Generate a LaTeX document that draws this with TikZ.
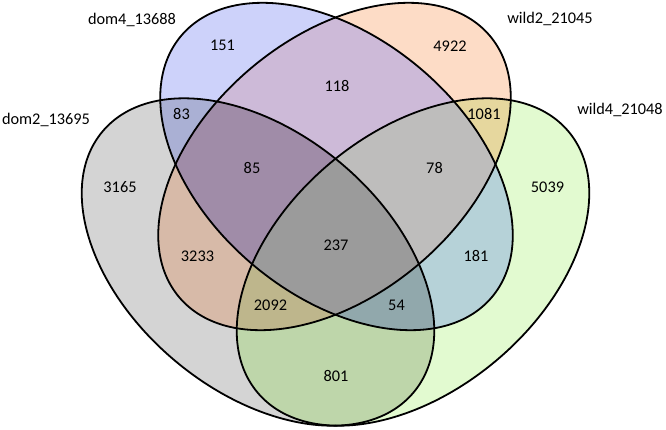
\documentclass[tikz,border=0pt]{standalone}
\usepackage{fontspec}
\setmainfont{Carlito}
\definecolor{cG}{RGB}{212,212,212}
\definecolor{cB}{RGB}{205,210,250}
\definecolor{cO}{RGB}{253,220,198}
\definecolor{cN}{RGB}{226,250,208}
\definecolor{cGB}{RGB}{170,176,212}
\definecolor{cGO}{RGB}{215,186,168}
\definecolor{cGN}{RGB}{190,214,170}
\definecolor{cBO}{RGB}{205,186,216}
\definecolor{cBN}{RGB}{182,210,216}
\definecolor{cON}{RGB}{230,215,158}
\definecolor{cGBO}{RGB}{160,140,168}
\definecolor{cGBN}{RGB}{145,168,172}
\definecolor{cGON}{RGB}{190,182,140}
\definecolor{cBON}{RGB}{190,189,188}
\definecolor{cALL}{RGB}{155,155,155}
\begin{document}
\begin{tikzpicture}[x=1pt,y=1pt,
  lbl/.style={font=\fontsize{16.3}{19}\selectfont, inner sep=0pt},
  outline/.style={draw=black, line width=1.8pt},
  elG/.style={rotate around={-40:(258,167)}},
  elB/.style={rotate around={-40:(336.5,262.5)}},
  elO/.style={rotate around={40:(334.5,262.5)}},
  elN/.style={rotate around={40:(413,167)}}]
\def\clipG{\clip[elG] (258,167) ellipse [x radius=203, y radius=129];}
\def\clipB{\clip[elB] (336.5,262.5) ellipse [x radius=203, y radius=129];}
\def\clipO{\clip[elO] (334.5,262.5) ellipse [x radius=203, y radius=129];}
\def\clipN{\clip[elN] (413,167) ellipse [x radius=203, y radius=129];}
\def\fillall#1{\fill[#1] (0,0) rectangle (666,429);}
\useasboundingbox (0,0) rectangle (666,429);
% single sets
\begin{scope}\clipG\fillall{cG}\end{scope}
\begin{scope}\clipB\fillall{cB}\end{scope}
\begin{scope}\clipO\fillall{cO}\end{scope}
\begin{scope}\clipN\fillall{cN}\end{scope}
% pairs
\begin{scope}\clipG\clipB\fillall{cGB}\end{scope}
\begin{scope}\clipG\clipO\fillall{cGO}\end{scope}
\begin{scope}\clipG\clipN\fillall{cGN}\end{scope}
\begin{scope}\clipB\clipO\fillall{cBO}\end{scope}
\begin{scope}\clipB\clipN\fillall{cBN}\end{scope}
\begin{scope}\clipO\clipN\fillall{cON}\end{scope}
% triples
\begin{scope}\clipG\clipB\clipO\fillall{cGBO}\end{scope}
\begin{scope}\clipG\clipB\clipN\fillall{cGBN}\end{scope}
\begin{scope}\clipG\clipO\clipN\fillall{cGON}\end{scope}
\begin{scope}\clipB\clipO\clipN\fillall{cBON}\end{scope}
% all
\begin{scope}\clipG\clipB\clipO\clipN\fillall{cALL}\end{scope}
% outlines
\draw[outline, elG] (258,167) ellipse [x radius=203, y radius=129];
\draw[outline, elB] (336.5,262.5) ellipse [x radius=203, y radius=129];
\draw[outline, elO] (334.5,262.5) ellipse [x radius=203, y radius=129];
\draw[outline, elN] (413,167) ellipse [x radius=203, y radius=129];
% set labels
\node[lbl, anchor=base] (ldom4) at (132,404.5) {dom4\_13688};
\node[lbl, anchor=base] (ldom2) at (46,304.5) {dom2\_13695};
\node[lbl, anchor=base] (lwild2) at (550,405) {wild2\_21045};
\node[lbl, anchor=base] (lwild4) at (620,314) {wild4\_21048};
% counts
\node[lbl] (n151) at (222.5,383.5) {151};
\node[lbl] (n83) at (181.5,315) {83};
\node[lbl] (n118) at (337,343) {118};
\node[lbl] (n4922) at (450,383) {4922};
\node[lbl] (n1081) at (484,315.5) {1081};
\node[lbl] (n3165) at (120,242) {3165};
\node[lbl] (n85) at (252,261.5) {85};
\node[lbl] (n78) at (434.5,261.5) {78};
\node[lbl] (n5039) at (547.5,241.5) {5039};
\node[lbl] (n237) at (336,183.5) {237};
\node[lbl] (n3233) at (197.5,173) {3233};
\node[lbl] (n181) at (476,173) {181};
\node[lbl] (n2092) at (270.5,123.5) {2092};
\node[lbl] (n54) at (396.5,123.5) {54};
\node[lbl] (n801) at (336,53.5) {801};
\end{tikzpicture}
\end{document}
